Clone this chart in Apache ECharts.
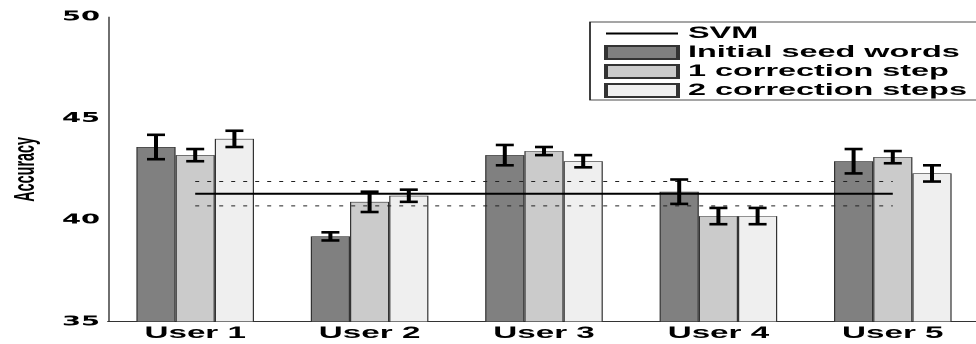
<!DOCTYPE html>
<html>
<head>
<meta charset="utf-8">
<script src="https://cdn.jsdelivr.net/npm/echarts@6/dist/echarts.min.js"></script>
<style>
  html, body { margin: 0; padding: 0; background: #fff; overflow: hidden; }
  /* The figure is laid out at half width and stretched horizontally,
     giving the wide lettering and heavy error-bar stems. */
  #chart { width: 488px; height: 344px; transform: scaleX(2); transform-origin: 0 0; }
</style>
</head>
<body>
<div id="chart"></div>
<script>
// Users on the x axis
const categories = ['User 1', 'User 2', 'User 3', 'User 4', 'User 5'];

// Mean accuracy and half-width of the error bar per condition
const seedWords    = [43.6, 39.2, 43.2, 41.4, 42.9];
const seedWordsErr = [0.6, 0.2, 0.5, 0.6, 0.6];
const oneStep      = [43.2, 40.9, 43.4, 40.2, 43.1];
const oneStepErr   = [0.3, 0.5, 0.2, 0.4, 0.3];
const twoSteps     = [44.0, 41.2, 42.9, 40.2, 42.3];
const twoStepsErr  = [0.4, 0.3, 0.3, 0.4, 0.4];

// SVM baseline and its spread
const svmMean = 41.3;
const svmSpread = 0.6;

// Accuracy axis range
const yMin = 35, yMax = 50, yStep = 5;

const seriesNames = ['Initial seed words', '1 correction step', '2 correction steps'];
const barColors = ['#808080', '#cbcbcb', '#efefef'];
const FONT = '"Liberation Sans", Arial, Helvetica, sans-serif';
const TICK_FONT = '"DejaVu Sans", Verdana, sans-serif';
const BAR_W = 19.6;

const means = [seedWords, oneStep, twoSteps];
const errs = [seedWordsErr, oneStepErr, twoStepsErr];

// [category index, low, high, bar slot]
const errData = [];
means.forEach((vals, k) => {
  vals.forEach((v, i) => {
    errData.push([i, +(v - errs[k][i]).toFixed(2), +(v + errs[k][i]).toFixed(2), k]);
  });
});

const chart = echarts.init(document.getElementById('chart'), null, {
  renderer: 'canvas',
  devicePixelRatio: 2
});

const flatLine = v => categories.map(() => v);

chart.setOption({
  animation: false,
  backgroundColor: '#fff',
  grid: {
    left: 54, top: 17, width: 436, height: 304.7,
    containLabel: false, outerBoundsMode: 'none'
  },
  legend: {
    data: [{ name: 'SVM', icon: 'path://M0,0H36V2H0Z' }]
      .concat(seriesNames.map(n => ({ name: n, icon: 'rect' }))),
    orient: 'vertical',
    left: 295,
    top: 22,
    padding: [2, 15, 0, 7],
    itemGap: 0,
    itemWidth: 36,
    itemHeight: 13,
    backgroundColor: '#fff',
    borderColor: '#111',
    borderWidth: 0.8,
    textStyle: {
      fontFamily: FONT, fontWeight: 'bold', fontSize: 16.2,
      color: '#000', lineHeight: 19
    }
  },
  xAxis: {
    type: 'category',
    data: categories,
    axisLine: { lineStyle: { color: '#333', width: 1 } },
    axisTick: { show: false },
    axisLabel: {
      margin: 3, color: '#000', fontFamily: FONT,
      fontWeight: 'bold', fontSize: 16.6
    },
    splitLine: { show: false }
  },
  yAxis: {
    type: 'value',
    min: yMin, max: yMax, interval: yStep,
    name: 'Accuracy',
    nameLocation: 'middle',
    nameRotate: 90,
    nameGap: 28,
    nameTextStyle: { fontFamily: FONT, fontSize: 14.4, fontWeight: 'bold', color: '#000' },
    axisLine: { show: true, lineStyle: { color: '#333', width: 0.7 } },
    axisTick: { show: false },
    splitLine: { show: false },
    axisLabel: {
      margin: 4, color: '#000', fontFamily: TICK_FONT,
      fontWeight: 'bold', fontSize: 13.7
    }
  },
  series: [
    ...means.map((vals, k) => ({
      name: seriesNames[k],
      type: 'bar',
      data: vals,
      barWidth: BAR_W,
      barGap: '0%',
      itemStyle: { color: barColors[k], borderColor: '#333', borderWidth: 0.6 },
      z: 2
    })),
    {
      name: 'SVM',
      type: 'line',
      data: flatLine(svmMean),
      symbol: 'none',
      lineStyle: { color: '#000', width: 2 },
      itemStyle: { color: '#000' },
      z: 4
    },
    {
      name: 'SVM upper',
      type: 'line',
      data: flatLine(+(svmMean + svmSpread).toFixed(2)),
      symbol: 'none',
      lineStyle: { color: '#222', width: 1, type: [2, 4] },
      z: 4
    },
    {
      name: 'SVM lower',
      type: 'line',
      data: flatLine(+(svmMean - svmSpread).toFixed(2)),
      symbol: 'none',
      lineStyle: { color: '#222', width: 1, type: [2, 4] },
      z: 4
    },
    {
      name: 'error',
      type: 'custom',
      data: errData,
      z: 5,
      renderItem(params, api) {
        const cat = api.value(0);
        const slot = api.value(3);
        const hi = api.coord([cat, api.value(2)]);
        const lo = api.coord([cat, api.value(1)]);
        const x = hi[0] + (slot - 1) * BAR_W;
        const cap = 4.5;
        return {
          type: 'group',
          children: [
            { type: 'line', shape: { x1: x, y1: hi[1], x2: x, y2: lo[1] },
              style: { stroke: '#000', lineWidth: 2 } },
            { type: 'line', shape: { x1: x - cap, y1: hi[1], x2: x + cap, y2: hi[1] },
              style: { stroke: '#000', lineWidth: 2.6 } },
            { type: 'line', shape: { x1: x - cap, y1: lo[1], x2: x + cap, y2: lo[1] },
              style: { stroke: '#000', lineWidth: 2.6 } }
          ]
        };
      }
    }
  ]
});
</script>
</body>
</html>
